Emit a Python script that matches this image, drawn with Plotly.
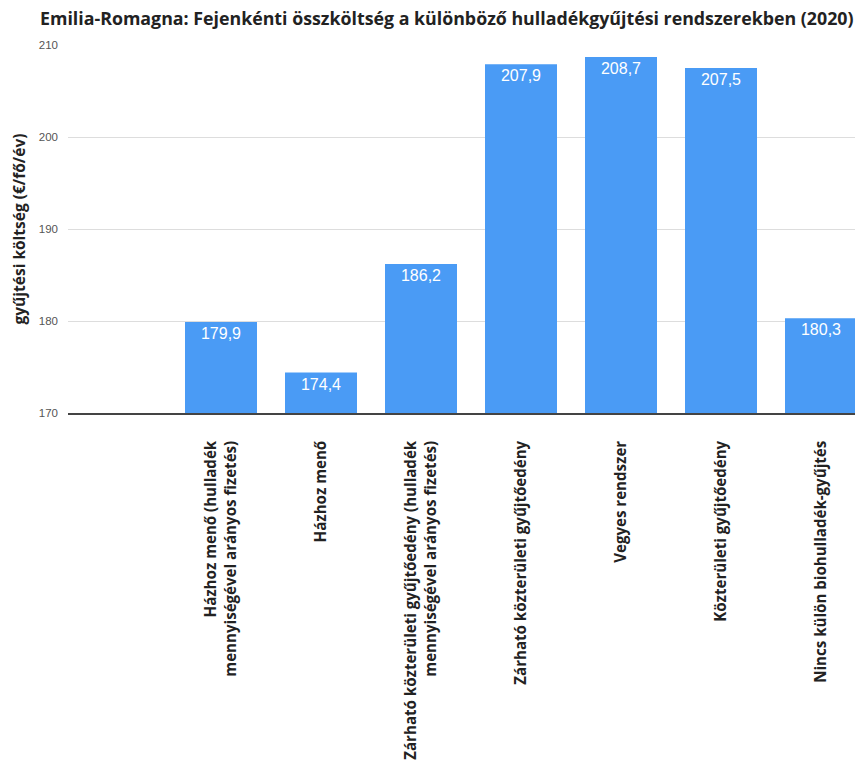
import plotly.graph_objects as go

categories = [
    " ",
    "Házhoz menő (hulladék<br>mennyiségével arányos fizetés)",
    "Házhoz menő",
    "Zárható közterületi gyűjtőedény (hulladék<br>mennyiségével arányos fizetés)",
    "Zárható közterületi gyűjtőedény",
    "Vegyes rendszer",
    "Közterületi gyűjtőedény",
    "Nincs külön biohulladék-gyűjtés",
]
values = [None, 179.9, 174.4, 186.2, 207.9, 208.7, 207.5, 180.3]
y_ticks = [170, 180, 190, 200, 210]

fig = go.Figure(go.Bar(
    x=categories,
    y=values,
    marker=dict(color="#4A9BF5", line=dict(width=0)),
    texttemplate="%{y:.1f}",
    textposition="inside",
    insidetextanchor="end",
    textangle=0,
    textfont=dict(family="Liberation Sans, Arial", size=16, color="white"),
    cliponaxis=False,
))

fig.update_layout(
    width=863, height=770,
    margin=dict(l=60, r=0, t=37, b=365),
    plot_bgcolor="white", paper_bgcolor="white",
    separators=", ",
    bargap=0.28,
    showlegend=False,
    title=dict(
        text="<b>Emilia-Romagna: Fejenkénti összköltség a különböző hulladékgyűjtési rendszerekben (2020)</b>",
        font=dict(family="Open Sans", size=17.8, color="#222"),
        xref="container", x=32/863, xanchor="left",
        yref="container", y=1 - 11/770, yanchor="middle",
        automargin=False,
    ),
)

fig.update_xaxes(
    type="category",
    categoryorder="array", categoryarray=categories,
    range=[-0.53, 7.5],
    tickangle=-90,
    tickfont=dict(family="Open Sans", size=15.1, color="#222", weight="bold"),
    ticks="", ticklabelstandoff=20,
    showline=True, linecolor="#444", linewidth=1.5,
    showgrid=False,
    automargin=False,
)

fig.update_yaxes(
    range=[170, 210],
    tickvals=y_ticks,
    tickfont=dict(family="Liberation Sans, Arial", size=11.5, color="#555"),
    ticks="", ticklabelstandoff=9,
    showgrid=True, gridcolor="#DDDDDD", gridwidth=1,
    zeroline=False, showline=False,
    automargin=False,
    title=dict(text="<b>gyűjtési költség (€/fő/év)</b>",
               font=dict(family="Open Sans", size=15.5, color="#222"),
               standoff=11),
)

fig.write_html("out.html")
